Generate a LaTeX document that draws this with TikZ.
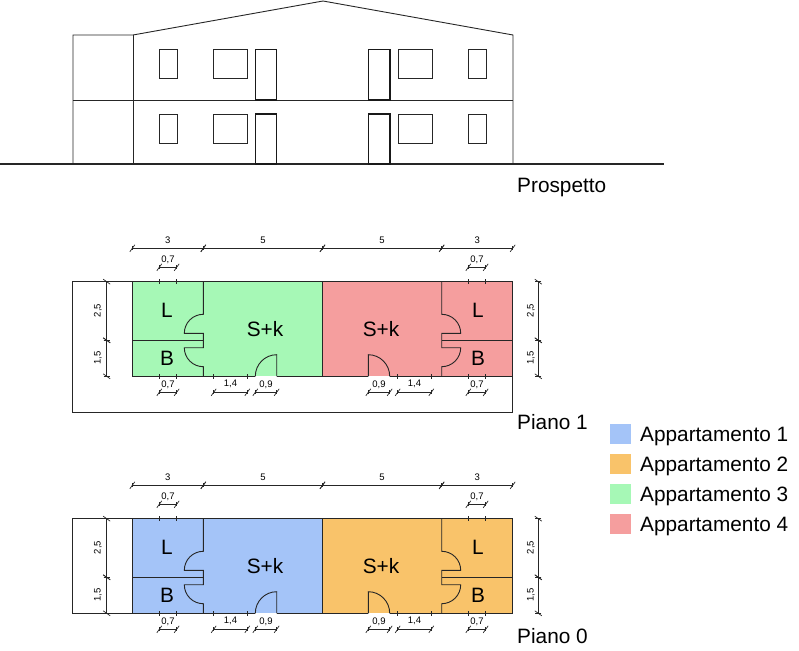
\documentclass[tikz,border=0pt]{standalone}
\usepackage{fontspec}
\setmainfont{Liberation Sans}

\definecolor{aptA}{HTML}{A4C4F8}
\definecolor{aptB}{HTML}{F9C36A}
\definecolor{aptC}{HTML}{A6F8B6}
\definecolor{aptD}{HTML}{F59E9E}

\tikzstyle{wL}=[line width=0.9pt,draw=black!85]
\tikzstyle{dL}=[line width=1.1pt,draw=black!90]
\tikzstyle{dimL}=[line width=0.7pt,draw=black!85]
\tikzstyle{dimT}=[inner sep=0pt,font=\fontsize{9.5}{10}\selectfont]
\tikzstyle{titleT}=[anchor=base west,inner sep=0pt,font=\fontsize{20.8}{24}\selectfont]
\tikzstyle{roomT}=[inner sep=0pt,font=\fontsize{20.8}{24}\selectfont]

% horizontal dimension: x1, x2, y, label, name
\newcommand{\dimH}[5]{
    \draw[dimL] (#1,#3) -- (#2,#3);
    \foreach \tx in {#1,#2} {
        \draw[dimL] (\tx-2.5*\sc,#3+3.5) -- (\tx+2.5*\sc,#3-3.5);
        \draw[dimL] (\tx,#3-2) -- (\tx,#3+2);
    }
    \draw ({(#1+#2)/2},#3-8) node[dimT] (#5) {#4};
}
% vertical dimension: y1, y2, label, name
\newcommand{\dimV}[4]{
    \draw[dimL] (106.7,#1) -- (106.7,#2);
    \foreach \ty in {#1,#2} {
        \draw[dimL] (106.7-3.5*\sc,\ty-2.5) -- (106.7+3.5*\sc,\ty+2.5);
        \draw[dimL] (106.7-3,\ty) -- (106.7+3,\ty);
    }
    \draw (\lx,{(#1+#2)/2-0.5}) node[dimT,rotate=90] (#4) {#3};
}

\begin{document}
\begin{tikzpicture}[x=1pt,y=-1pt]
    \useasboundingbox (0,0) rectangle (799,650);

    % prospetto
    \draw[wL] (73,164) -- (73,35) -- (133,35) -- (323,1) -- (513,35) -- (513,164);
    \draw[wL] (133,35) -- (133,164);
    \draw[wL] (73,100) -- (513,100);
    \draw[wL,line width=1.1pt] (0,164) -- (664,164);
    \foreach \mx/\sc in {0/1,645.5/-1} {
        \begin{scope}[shift={(\mx,0)},xscale=\sc]
            \foreach \wy/\by in {49.5/100,114/164} {
                \draw[wL] (159.5,\wy) rectangle (177,\wy+29);
                \draw[wL] (213.5,\wy) rectangle (247,\wy+29);
                \draw[dL] (255.5,\wy) rectangle (276.7,\by);
            }
        \end{scope}
    }
    \draw (517,192) node[titleT] (tProspetto) {Prospetto};

    % piani
    \draw[wL] (72.7,281.7) rectangle (512.7,412);
    \draw[wL] (72.7,518.7) rectangle (132.3,613.3);
    \foreach \fl/\fy/\fcL/\fcR in {1/0/aptC/aptD,0/237/aptA/aptB} {
        \foreach \sd/\mx/\sc/\fc/\lx in {a/0/1/\fcL/98,b/645/-1/\fcR/114} {
            \begin{scope}[shift={(\mx,\fy)},xscale=\sc]
                \fill[\fc] (132.3,281.7) rectangle (322.5,376.3);
                \draw[wL] (255.3,376.3) -- (132.3,376.3) -- (132.3,281.7) -- (322.5,281.7) -- (322.5,376.3) -- (276.7,376.3);
                \draw[wL] (132.3,340.3) -- (203.3,340.3);
                % porte
                \draw[wL] (203.3,281.7) -- (203.3,314.3)
                    .. controls (192.8,314.3) and (184.3,322.8) .. (184.3,333.3)
                    -- (203.3,333.3) -- (203.3,347.7) -- (184.3,347.7)
                    .. controls (184.3,358.2) and (192.8,366.7) .. (203.3,366.7)
                    -- (203.3,376.3);
                \draw[wL] (276.7,376.3) -- (276.7,354.7)
                    .. controls (264.9,354.7) and (255.3,364.4) .. (255.3,376.3);
                % quote
                \foreach \tx in {159.3,176.7} {
                    \draw[dimL] (\tx,279) -- (\tx,284);
                    \draw[dimL] (\tx,374) -- (\tx,379);
                }
                \foreach \tx in {213.7,247.3} {
                    \draw[dimL] (\tx,374) -- (\tx,378.5);
                }
                \dimH{132.3}{203.3}{248.3}{3}{dA\fl\sd}
                \dimH{203.3}{322.5}{248.3}{5}{dB\fl\sd}
                \dimH{159.3}{176.7}{267.3}{0,7}{dC\fl\sd}
                \dimH{159.3}{176.7}{392.3}{0,7}{dD\fl\sd}
                \dimH{213.7}{247.3}{392.3}{1,4}{dE\fl\sd}
                \dimH{255.3}{276.7}{392.3}{0,9}{dF\fl\sd}
                \dimV{281.7}{340.3}{2,5}{dG\fl\sd}
                \dimV{340.3}{376.3}{1,5}{dH\fl\sd}
                % locali
                \draw (167,310) node[roomT] (rL\fl\sd) {L};
                \draw (167,358) node[roomT] (rB\fl\sd) {B};
            \end{scope}
        }
        \begin{scope}[shift={(0,\fy)}]
            \draw (265,329) node[roomT] (rSa\fl) {S+k};
            \draw (381,329) node[roomT] (rSb\fl) {S+k};
        \end{scope}
    }
    \draw (517,429.5) node[titleT] (tPianoA) {Piano 1};
    \draw (517,643) node[titleT] (tPianoB) {Piano 0};

    % legenda
    \foreach \ly/\lc/\ln in {434/aptA/1,464/aptB/2,494/aptC/3,524/aptD/4} {
        \fill[\lc] (610.3,\ly-10) rectangle (631,\ly+10);
        \draw (640,\ly+7.7) node[titleT] (leg\ln) {Appartamento \ln};
    }
\end{tikzpicture}
\end{document}
